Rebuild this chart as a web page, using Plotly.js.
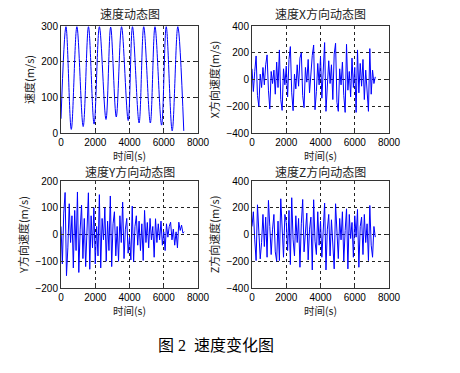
<!DOCTYPE html>
<html>
<head>
<meta charset="utf-8">
<script src="https://cdn.plot.ly/plotly-3.0.1.min.js"></script>
<style>html,body{margin:0;padding:0;background:#fff;}#chart{width:460px;height:373px;}</style>
</head>
<body>
<div id="chart"></div>
<script>
// Speed magnitude: turning points (time s, value m/s)
var speedTime = [0,290,600,928,1295,1604,1932,2242,2628,2899,3227,3536,3923,4174,4560,4831,5217,5488,5874,6145,6493,6821,7169];
var speedVal  = [40,298,10,298,18,298,25,298,38,297,45,298,35,298,28,298,28,298,22,298,6,298,6];

// Component samples (time s)
var compTime = [0,80,160,240,320,400,480,560,640,720,800,880,960,1040,1120,1200,1280,1360,1440,1520,1600,1680,1760,1840,1920,2000,2080,2160,2240,2320,2400,2480,2560,2640,2720,2800,2880,2960,3040,3120,3200,3280,3360,3440,3520,3600,3680,3760,3840,3920,4000,4080,4160,4240,4320,4400,4480,4560,4640,4720,4800,4880,4960,5040,5120,5200,5280,5360,5440,5520,5600,5680,5760,5840,5920,6000,6080,6160,6240,6320,6400,6480,6560,6640,6720,6800,6880,6960,7040,7120,7200];

var velX = [80,-90,60,176,-120,-201,40,-60,90,-40,110,184,-80,-221,60,-30,70,-110,130,-60,221,-150,-231,80,-40,100,-130,150,246,-100,-233,40,-70,110,-50,160,200,-120,-210,90,-20,150,-100,60,180,258,-226,-90,120,-40,170,-140,100,276,-238,-60,140,-30,110,-150,190,271,-170,-238,80,-40,130,-120,-246,263,-80,60,-130,160,-60,90,-246,221,-100,120,-50,150,-150,70,-90,-238,231,-110,70,-30,20];

var velY = [30,-110,80,157,-154,-50,115,-30,70,-125,90,-60,159,-142,20,110,-90,60,-120,40,156,-130,70,-50,100,-110,30,-80,149,-125,60,-20,100,-100,50,-60,144,-120,40,85,-80,30,-100,70,-30,121,-90,20,60,-70,-10,-95,106,-101,30,70,-40,50,-60,40,-97,90,-30,45,-50,60,-20,30,-85,59,-30,40,-20,50,-40,10,-60,40,-10,30,46,-20,20,-40,10,-50,46,15,35,5,10];

var velZ = [60,170,-40,-195,222,30,-182,-60,150,-90,130,-170,255,60,-150,40,150,-130,-200,100,-195,267,20,-170,150,90,-120,180,-225,275,-40,-160,140,-60,120,-245,80,262,-130,60,160,-190,40,130,-265,260,-50,-150,170,-80,100,-170,60,235,-265,40,150,-160,110,-60,-257,230,20,-180,120,-40,170,-200,30,192,-257,150,-30,90,-170,140,-20,187,-245,60,130,-150,150,-60,80,-195,217,-80,-170,60,-20];

var xTicks = [0,2000,4000,6000,8000];

var titles = ['速度动态图','速度X方向动态图','速度Y方向动态图','速度Z方向动态图'];
var yTitles = ['速度(m/s)','X方向速度(m/s)','Y方向速度(m/s)','Z方向速度(m/s)'];
var xTitle = '时间(s)';
var caption = '图 2  速度变化图';

var W = 460, H = 373;
var boxes = [
  {l:61, r:198, t:26, b:133, tt:13},
  {l:252, r:389, t:26, b:133, tt:13},
  {l:61, r:198, t:181, b:288, tt:171},
  {l:252, r:389, t:181, b:288, tt:171}
];
var yRanges = [[0,300],[-400,400],[-200,200],[-400,400]];
var yDticks = [100,200,100,200];

var line = {color:'#0000ff', width:1};
var traces = [
  {x:speedTime, y:speedVal, xaxis:'x', yaxis:'y', mode:'lines', line:Object.assign({shape:'spline', smoothing:1}, line), hoverinfo:'skip'},
  {x:compTime, y:velX, xaxis:'x2', yaxis:'y2', mode:'lines', line:line, hoverinfo:'skip'},
  {x:compTime, y:velY, xaxis:'x3', yaxis:'y3', mode:'lines', line:line, hoverinfo:'skip'},
  {x:compTime, y:velZ, xaxis:'x4', yaxis:'y4', mode:'lines', line:line, hoverinfo:'skip'}
];

var tickFont = {family:'Liberation Sans, Arial, sans-serif', size:10, color:'#000'};
var cjk = 'Noto Sans CJK SC, sans-serif';

var layout = {
  width:W, height:H,
  margin:{l:0, r:0, t:0, b:0},
  paper_bgcolor:'#fff', plot_bgcolor:'#fff',
  showlegend:false,
  annotations:[]
};

boxes.forEach(function(b, i){
  var n = i === 0 ? '' : String(i+1);
  var common = {
    showline:true, mirror:'ticks', linecolor:'#333', linewidth:1,
    ticks:'inside', ticklen:3, tickcolor:'#333',
    showgrid:true, gridcolor:'#222', griddash:'dot', gridwidth:1,
    zeroline:false, tickfont:tickFont, automargin:false, fixedrange:true
  };
  layout['xaxis'+n] = Object.assign({}, common, {
    domain:[b.l/W, b.r/W], anchor:'y'+n, range:[0,8000], tickvals:xTicks,
    title:{text:xTitle, font:{family:cjk, size:10.5, color:'#222'}, standoff:0}
  });
  layout['yaxis'+n] = Object.assign({}, common, {
    domain:[1-b.b/H, 1-b.t/H], anchor:'x'+n, range:yRanges[i], dtick:yDticks[i],
    title:{text:yTitles[i], font:{family:cjk, size:11, color:'#222'}, standoff:4}
  });
  layout.annotations.push({
    text:titles[i], xref:'paper', yref:'paper', x:(b.l+b.r)/2/W, y:1-b.tt/H,
    xanchor:'center', yanchor:'middle', showarrow:false,
    font:{family:cjk, size:12, color:'#222'}
  });
});

layout.annotations.push({
  text:caption, xref:'paper', yref:'paper', x:216/W, y:1-345/H,
  xanchor:'center', yanchor:'middle', showarrow:false,
  font:{family:'Liberation Serif, Noto Sans CJK SC, serif', size:16, color:'#000'}
});

Plotly.newPlot('chart', traces, layout, {displayModeBar:false, staticPlot:true});
</script>
</body>
</html>
